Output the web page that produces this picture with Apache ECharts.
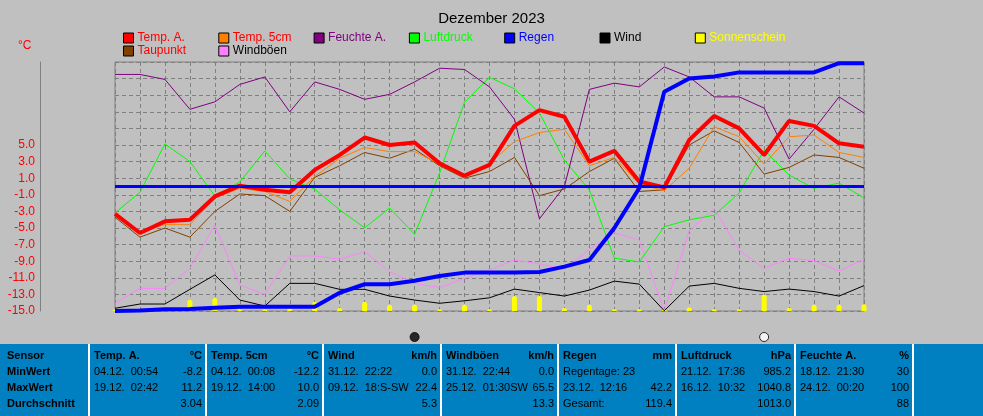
<!DOCTYPE html>
<html><head><meta charset="utf-8">
<script src="https://cdn.jsdelivr.net/npm/echarts@6/dist/echarts.min.js"></script>
<style>html,body{margin:0;padding:0;background:#c0c0c0}#c{width:983px;height:416px}</style>
</head><body><div id="c"></div>
<script>
const days = Array.from({length:31},(_,i)=>String(i+1));
const tempA = [-3.3,-5.6,-4.2,-4.0,-1.2,0.1,-0.4,-0.7,2.0,3.8,5.9,5.0,5.3,2.8,1.3,2.6,7.3,9.2,8.4,3.0,4.3,0.6,-0.1,5.6,8.5,7.0,3.8,7.9,7.3,5.2,4.8];
const temp5 = [-3.5,-5.4,-4.6,-4.6,-1.4,-0.2,-0.6,-1.8,1.2,3.4,4.7,4.2,4.2,2.7,1.1,2.8,5.4,6.5,6.9,2.5,3.5,0.3,-0.5,2.2,7.2,6.0,2.7,6.0,6.2,4.1,3.5];
const taupunkt = [-3.7,-6.1,-5.0,-6.1,-3.0,-0.9,-1.1,-3.0,1.1,2.5,4.1,3.4,4.5,2.5,1.0,1.8,3.5,-1.1,-0.3,1.8,3.4,-0.6,-0.4,5.0,6.7,5.3,1.5,2.3,3.8,3.5,2.2];
const feuchte = [95,95,93,81,84,91,94,80,92,89,85,87,92,97.5,97,90,77,37,50,89,91.5,90,98,94,86,86,81.5,61,73,86,79.5];
const luftdruck = [1002.6,1008,1020.6,1016,1007,1010.7,1018.8,1011.5,1008.8,1003.4,998.7,1003.9,997,1013,1031.5,1038,1035,1028.7,1016.4,1008.6,990.8,989.8,999,1000.8,1002,1007.8,1019,1012.5,1009,1010.4,1006.5];
const regen = [0,0.2,0.8,1,1.6,2.1,2.1,2.1,2.1,8.8,12.9,12.9,14.6,16.9,18.5,18.6,18.6,18.8,21.4,24.6,40,59.3,105.7,112,113,115,115,115,115,119.4,119.4];
const wind = [1.1,2.8,2.8,8.7,14.5,4.4,2,11.1,11.1,8.7,8.7,6,4.4,3.1,4.1,5.3,8.8,7.4,6,8.4,12,10.8,0.1,10,11.1,9.1,7.8,8.8,7.8,6,10.2];
const boeen = [3.1,9.1,9.1,17.1,34.5,10.4,6.7,22.1,22.1,20.8,23.8,15.8,11.1,9.4,13.1,16.5,20.5,18.9,16.7,24.8,31.4,28.5,0.1,32.2,41.2,24.5,17.1,21.2,20.2,16.1,20.8];
const sonne = [0.3,0,0.2,1.8,2.1,0.3,0.3,0.5,1.5,0.5,1.5,1,1,0.3,1,0.3,2.4,2.4,0.5,1,0.3,0.3,0.3,0.6,0.3,0.3,2.6,0.5,1,1,1.1];
const moonDays = [13,27];
const moonColors = ['#000','#fff'];
const legendNames = ['Temp. A.','Temp. 5cm','Feuchte A.','Luftdruck','Regen','Wind','Sonnenschein','Taupunkt','Windböen'];
const legendColors = ['#ff0000','#ff8000','#800080','#00ff00','#0000ff','#000000','#ffff00','#804000','#ff80ff'];
const legendText = ['#ff0000','#ff0000','#800080','#00ff00','#0000ff','#000000','#ffff00','#ff0000','#000000'];
const tableHead = ['Sensor','MinWert','MaxWert','Durchschnitt'];
const tableCols = [
 ['Temp. A.','°C','04.12.  00:54','-8.2','19.12.  02:42','11.2','','3.04'],
 ['Temp. 5cm','°C','04.12.  00:08','-12.2','19.12.  14:00','10.0','','2.09'],
 ['Wind','km/h','31.12.  22:22','0.0','09.12.  18:S-SW','22.4','','5.3'],
 ['Windböen','km/h','31.12.  22:44','0.0','25.12.  01:30SW','65.5','','13.3'],
 ['Regen','mm','Regentage: 23','','23.12.  12:16','42.2','Gesamt:','119.4'],
 ['Luftdruck','hPa','21.12.  17:36','985.2','16.12.  10:32','1040.8','','1013.0'],
 ['Feuchte A.','%','18.12.  21:30','30','24.12.  00:20','100','','88']
];

const chart = echarts.init(document.getElementById('c'));
const G = {left:115, top:62, width:749, height:249};
const legends = legendNames.map((n,i)=>({
  data:[{name:n, textStyle:{color:legendText[i]}}],
  left: i<7 ? 123+i*95.3 : 123+(i-7)*95.3, top: i<7 ? 32 : 45,
  icon:'rect', itemWidth:10, itemHeight:10, itemGap:4, padding:0,
  itemStyle:{borderColor:'#000', borderWidth:1},
  textStyle:{fontFamily:'Liberation Sans', fontSize:12, padding:[0,0,0,-1]},
  selectedMode:false
}));
const hidY = (min,max)=>({type:'value', min, max, show:false, gridIndex:0});
const ln = (name, data, yi, color, w)=>({name, type:'line', data, yAxisIndex:yi, symbol:'none', lineStyle:{color, width:w}, itemStyle:{color}, silent:true, animation:false});

const graphics = [];
const colX = [5,88,205,322,440,557,675,794,912];
graphics.push({type:'rect', shape:{x:0,y:344,width:983,height:72}, style:{fill:'#0080c0'}});
for (let i=1;i<colX.length;i++) graphics.push({type:'rect', shape:{x:colX[i],y:344,width:2,height:72}, style:{fill:'#ffffff'}});
const rowY = [356,372,388,404];
const fam = 'Liberation Sans Narrow, Liberation Sans';
const tf = {fontFamily:fam, fontSize:11, fontWeight:'bold', fill:'#000'};
const tfn = {fontFamily:fam, fontSize:11, fill:'#000'};
tableHead.forEach((t,r)=>graphics.push({type:'text', x:7, y:rowY[r], style:Object.assign({text:t, verticalAlign:'middle'},tf)}));
tableCols.forEach((c,k)=>{
  const x0 = colX[k+1]+6, x1 = colX[k+2]-3;
  graphics.push({type:'text', x:x0, y:rowY[0], style:Object.assign({text:c[0], verticalAlign:'middle'},tf)});
  graphics.push({type:'text', x:x1, y:rowY[0], style:Object.assign({text:c[1], align:'right', verticalAlign:'middle'},tf)});
  for (let r=1;r<4;r++){
    graphics.push({type:'text', x:x0, y:rowY[r], style:Object.assign({text:c[2*r], verticalAlign:'middle'},tfn)});
    graphics.push({type:'text', x:x1, y:rowY[r], style:Object.assign({text:c[2*r+1], align:'right', verticalAlign:'middle'},tfn)});
  }
});
graphics.push({type:'text', x:18, y:40, style:{text:'°C', fill:'#ff0000', fontFamily:'Liberation Sans', fontSize:12}});

chart.setOption({
  backgroundColor:'#c0c0c0',
  animation:false,
  title:{text:'Dezember 2023', left:'center', top:6, textStyle:{fontFamily:'Liberation Sans', fontSize:15, fontWeight:'normal', color:'#000'}},
  legend: legends,
  grid:[Object.assign({show:true, borderColor:'#808080', borderWidth:1, backgroundColor:'transparent'},G),
        {left:115, width:749, top:330, height:14}],
  xAxis:[{type:'category', data:days, boundaryGap:false, gridIndex:0, axisLabel:{show:false}, axisTick:{show:false}, axisLine:{show:false},
          splitLine:{show:true, lineStyle:{color:'#808080', type:[4,3]}}},
         {type:'category', data:days, boundaryGap:false, gridIndex:1, show:false}],
  yAxis:[{type:'value', min:-15, max:15, interval:2, offset:75, position:'left', gridIndex:0,
          axisLine:{show:true, lineStyle:{color:'#808080'}}, axisTick:{show:false},
          axisLabel:{color:'#ff0000', fontFamily:'Liberation Sans', fontSize:12, margin:5, formatter:v=>v<=5?v.toFixed(1):''},
          splitLine:{show:true, lineStyle:{color:'#808080', type:[4,3]}}},
         hidY(0,100), hidY(977,1042), hidY(0,120), hidY(0,100), hidY(0,40),
         {type:'value', min:0, max:1, show:false, gridIndex:1}],
  graphic: graphics,
  series:[
    ln('Sonnenschein', [], 0, '#ffff00', 1),
    Object.assign({name:'Sonnenschein', type:'bar', data:sonne, yAxisIndex:5, barWidth:5, itemStyle:{color:'#ffff00', borderRadius:[3,3,0,0]}, silent:true}),
    ln('Windböen', boeen, 4, '#ff80ff', 1),
    ln('Wind', wind, 4, '#000000', 1),
    ln('Luftdruck', luftdruck, 2, '#00ff00', 1),
    ln('Feuchte A.', feuchte, 1, '#800080', 1),
    ln('Taupunkt', taupunkt, 0, '#804000', 1),
    ln('Temp. 5cm', temp5, 0, '#ff8000', 1),
    Object.assign(ln('Temp. A.', tempA, 0, '#ff0000', 4), {markLine:{symbol:'none', silent:true, label:{show:false}, lineStyle:{color:'#0000ff', width:3, type:'solid'}, data:[{yAxis:0}]}}),
    ln('Regen', regen, 3, '#0000ff', 4),
    {type:'scatter', xAxisIndex:1, yAxisIndex:6, symbolSize:9, silent:true,
     data: moonDays.map((d,i)=>({value:[String(d),0.5], itemStyle:{color:moonColors[i], borderColor:'#000', borderWidth:1}}))}
  ]
});
</script></body></html>
